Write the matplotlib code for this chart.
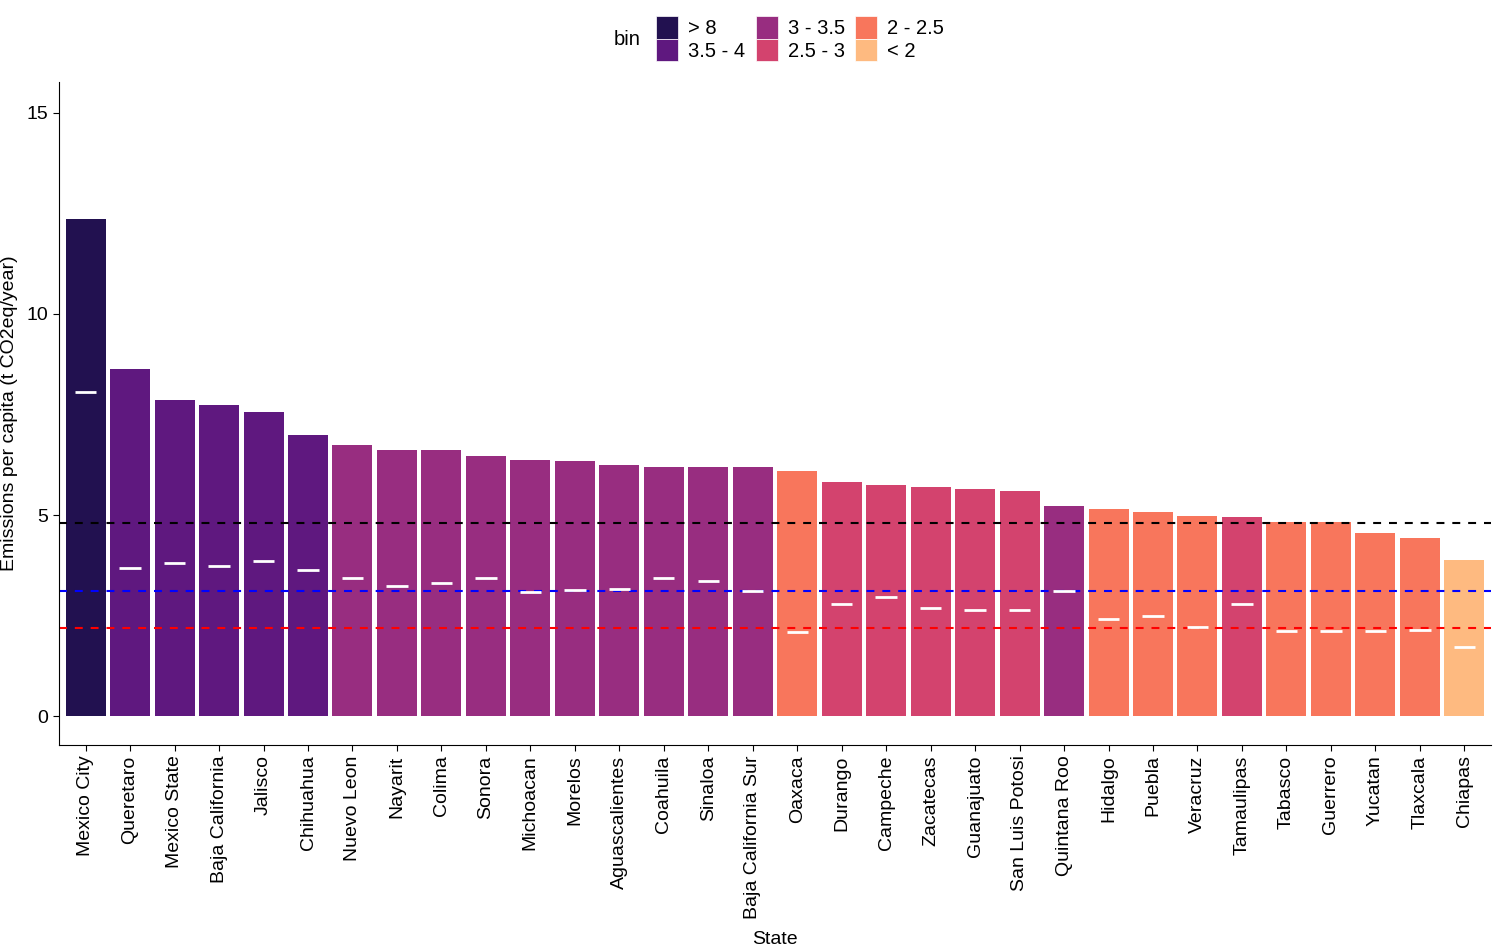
import matplotlib
matplotlib.use("Agg")
import matplotlib.pyplot as plt
from matplotlib.patches import Patch

plt.rcParams['font.family'] = ['Liberation Sans', 'DejaVu Sans']

# 数据
states = ["Mexico City", "Queretaro", "Mexico State", "Baja California", "Jalisco",
          "Chihuahua", "Nuevo Leon", "Nayarit", "Colima", "Sonora", "Michoacan",
          "Morelos", "Aguascalientes", "Coahuila", "Sinaloa", "Baja California Sur",
          "Oaxaca", "Durango", "Campeche", "Zacatecas", "Guanajuato", "San Luis Potosi",
          "Quintana Roo", "Hidalgo", "Puebla", "Veracruz", "Tamaulipas", "Tabasco",
          "Guerrero", "Yucatan", "Tlaxcala", "Chiapas"]
emissions = [12.36, 8.63, 7.86, 7.74, 7.56, 6.99, 6.74, 6.62, 6.62, 6.47, 6.37,
             6.34, 6.24, 6.19, 6.19, 6.19, 6.09, 5.82, 5.75, 5.70, 5.65, 5.60,
             5.22, 5.15, 5.07, 4.98, 4.95, 4.83, 4.83, 4.55, 4.43, 3.88]
medians = [8.06, 3.68, 3.81, 3.73, 3.86, 3.63, 3.43, 3.23, 3.31, 3.43, 3.08,
           3.13, 3.16, 3.43, 3.36, 3.12, 2.09, 2.79, 2.96, 2.69, 2.64, 2.64,
           3.11, 2.41, 2.49, 2.21, 2.79, 2.11, 2.11, 2.11, 2.14, 1.72]
bins = ["> 8", "3.5 - 4", "3.5 - 4", "3.5 - 4", "3.5 - 4", "3.5 - 4",
        "3 - 3.5", "3 - 3.5", "3 - 3.5", "3 - 3.5", "3 - 3.5", "3 - 3.5",
        "3 - 3.5", "3 - 3.5", "3 - 3.5", "3 - 3.5",
        "2 - 2.5", "2.5 - 3", "2.5 - 3", "2.5 - 3", "2.5 - 3", "2.5 - 3",
        "3 - 3.5", "2 - 2.5", "2 - 2.5", "2 - 2.5", "2.5 - 3", "2 - 2.5",
        "2 - 2.5", "2 - 2.5", "2 - 2.5", "< 2"]
bin_levels = ["> 8", "3.5 - 4", "3 - 3.5", "2.5 - 3", "2 - 2.5", "< 2"]
bin_colors = ["#221150", "#5F187F", "#982D80", "#D3436E", "#F8765C", "#FEBA80"]
ref_lines = [4.81, 3.12, 2.20]
ref_colors = ["black", "blue", "red"]

color_map = dict(zip(bin_levels, bin_colors))
x = range(len(states))

fig = plt.figure(figsize=(15, 9.47), dpi=100)
ax = fig.add_axes([0.0393, 0.2133, 0.9547, 0.7001])

ax.bar(x, emissions, width=0.9, color=[color_map[b] for b in bins], zorder=1)
for v, c in zip(ref_lines, ref_colors):
    ax.axhline(v, color=c, linestyle=(0, (3.8, 3.8)), linewidth=1.5, zorder=2)
ax.hlines(medians, [i - 0.24 for i in x], [i + 0.24 for i in x],
          color="white", linewidth=2, zorder=3)

ax.set_xlim(-0.6, len(states) - 0.4)
ax.set_ylim(-0.72, 15.77)
ax.set_yticks([0, 5, 10, 15])
ax.set_xticks(list(x))
ax.set_xticklabels(states, rotation=90, fontsize=14)
ax.tick_params(axis='y', labelsize=14)
ax.tick_params(colors='black', length=4)
for s in ["top", "right"]:
    ax.spines[s].set_visible(False)
ax.set_xlabel("State", fontsize=14, labelpad=9)
ax.set_ylabel("Emissions per capita (t CO2eq/year)", fontsize=14)
ax.yaxis.set_label_coords(-0.0286, 0.5)

handles = [Patch(facecolor=c, edgecolor='white', linewidth=0.5) for c in bin_colors]
fig.legend(handles, bin_levels, ncol=3, loc='upper left',
           bbox_to_anchor=(0.428, 0.998), frameon=False, fontsize=14.5,
           handlelength=1.1, handleheight=1.35, labelspacing=0.0,
           columnspacing=0.5, handletextpad=0.5, borderpad=0.2)
fig.text(0.418, 0.958, "bin", fontsize=14.5, va='center', ha='center')

fig.savefig("out.png", dpi=100)
